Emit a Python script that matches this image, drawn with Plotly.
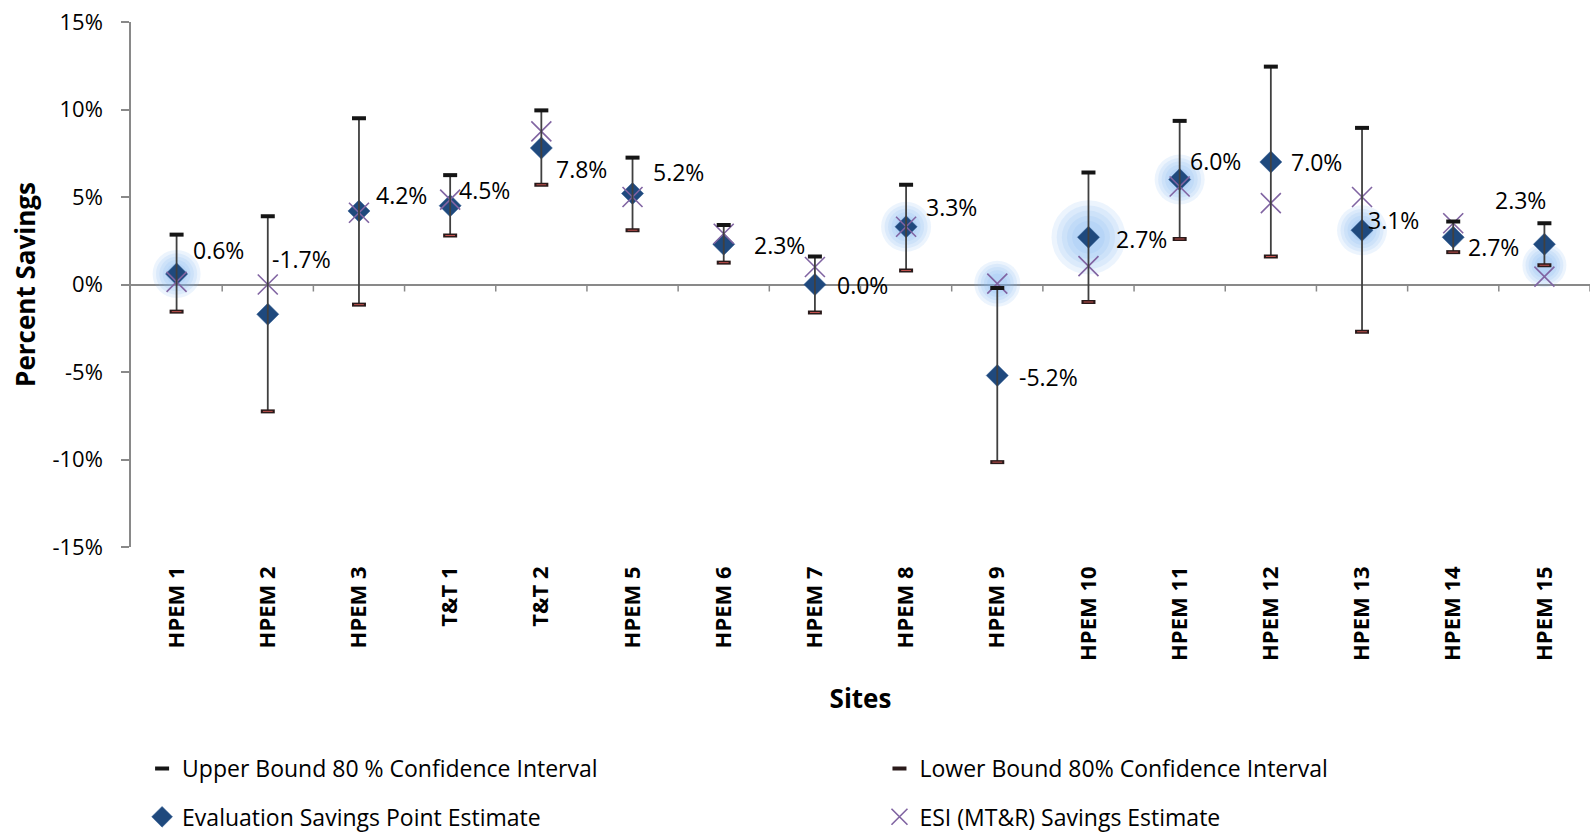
import plotly.graph_objects as go

sites = ["HPEM 1", "HPEM 2", "HPEM 3", "T&T 1", "T&T 2", "HPEM 5", "HPEM 6", "HPEM 7",
         "HPEM 8", "HPEM 9", "HPEM 10", "HPEM 11", "HPEM 12", "HPEM 13", "HPEM 14", "HPEM 15"]
upper_bound = [2.85, 3.9, 9.5, 6.25, 9.95, 7.25, 3.4, 1.6, 5.7, -0.2, 6.4, 9.35, 12.45, 8.95, 3.6, 3.5]
lower_bound = [-1.55, -7.25, -1.15, 2.8, 5.7, 3.1, 1.25, -1.6, 0.8, -10.15, -1.0, 2.6, 1.6, -2.7, 1.85, 1.1]
evaluation = [0.6, -1.7, 4.2, 4.5, 7.8, 5.2, 2.3, 0.0, 3.3, -5.2, 2.7, 6.0, 7.0, 3.1, 2.7, 2.3]
esi = [0.15, 0.0, 4.1, 4.85, 8.75, 5.0, 2.9, 1.0, 3.3, 0.05, 1.05, 5.6, 4.65, 5.0, 3.5, 0.45]
y_tick_vals = [15, 10, 5, 0, -5, -10, -15]
y_tick_text = ["15%", "10%", "5%", "0%", "-5%", "-10%", "-15%"]

# styling: data-label pixel offsets (dx, dy) relative to the evaluation marker
label_offsets = [(14, -24), (2, -55), (15, -16), (7, -16), (13, 21), (18, -22), (28, 1), (20, 0),
                 (18, -20), (20, 1), (26, 2), (8, -19), (18, 0), (4, -10), (13, 10), (-51, -44)]
# styling: glow highlights (site, series, diameter px)
glow_points = [("HPEM 1", "evaluation", 48), ("HPEM 8", "evaluation", 50), ("HPEM 9", "esi", 46),
               ("HPEM 10", "evaluation", 74), ("HPEM 11", "evaluation", 50),
               ("HPEM 13", "evaluation", 50), ("HPEM 15", "lower", 44)]

FONT = "Open Sans"
series_map = {"evaluation": evaluation, "esi": esi, "lower": lower_bound, "upper": upper_bound}

fig = go.Figure()

# glow effect
for site, series, d in glow_points:
    yv = series_map[series][sites.index(site)]
    for frac in (1.0, 0.86, 0.72, 0.58, 0.44):
        fig.add_trace(go.Scatter(
            x=[site], y=[yv], mode="markers", showlegend=False, hoverinfo="skip",
            marker=dict(symbol="circle", size=d * frac, color="rgba(130,180,240,0.15)", line=dict(width=0))))

fig.add_trace(go.Scatter(
    x=sites, y=evaluation, mode="markers", name="Evaluation Savings Point Estimate",
    legend="legend3",
    marker=dict(symbol="diamond", size=17, color="#1F497D", line=dict(width=0.5, color="#2E5B92"))))

fig.add_trace(go.Scatter(
    x=sites, y=esi, mode="markers", name="ESI (MT&R) Savings Estimate",
    legend="legend4",
    marker=dict(symbol="x-thin", size=20, color="#8064A2", line=dict(width=1.6, color="#8064A2"))))

# vertical interval lines
xs, ys = [], []
for s, lo, up in zip(sites, lower_bound, upper_bound):
    xs += [s, s, None]
    ys += [lo, up, None]
fig.add_trace(go.Scatter(x=xs, y=ys, mode="lines", showlegend=False, hoverinfo="skip",
                         line=dict(color="#404040", width=1.8)))

fig.add_trace(go.Scatter(
    x=sites, y=upper_bound, mode="markers", name="Upper Bound 80 % Confidence Interval",
    legend="legend",
    marker=dict(symbol="line-ew", size=10, color="#151515", line=dict(width=4, color="#151515"))))

fig.add_trace(go.Scatter(
    x=sites, y=lower_bound, mode="markers", name="Lower Bound 80% Confidence Interval",
    legend="legend2",
    marker=dict(symbol="line-ew", size=10, color="#2a1a1a", line=dict(width=4, color="#2a1a1a"))))
fig.add_trace(go.Scatter(
    x=sites, y=lower_bound, mode="markers", showlegend=False, hoverinfo="skip",
    marker=dict(symbol="line-ew", size=7, color="#C0504D", line=dict(width=1, color="#C0504D"))))

# data labels
for s, v, (dx, dy) in zip(sites, evaluation, label_offsets):
    fig.add_annotation(x=s, y=v, xref="x", yref="y", text=f"{v:.1f}%", showarrow=False,
                       xanchor="left", yanchor="middle", xshift=dx, yshift=-dy,
                       font=dict(family=FONT, size=23, color="#000000"))

# category boundary tick marks hanging from the zero line
for i in range(len(sites)):
    fig.add_shape(type="line", xref="x", yref="y", x0=i + 0.5, x1=i + 0.5,
                  ysizemode="pixel", yanchor=0, y0=0, y1=-7,
                  line=dict(color="#898989", width=1.5))

legend_common = dict(orientation="h", xanchor="left", yanchor="middle",
                     font=dict(family=FONT, size=23, color="#000000"),
                     bgcolor="rgba(0,0,0,0)", borderwidth=0)

fig.update_layout(
    width=1594, height=837,
    paper_bgcolor="white", plot_bgcolor="white",
    margin=dict(l=131, r=4, t=22, b=290, autoexpand=False),
    font=dict(family=FONT, color="#000000"),
    xaxis=dict(type="category", categoryorder="array", categoryarray=sites, automargin=False,
               range=[-0.5, len(sites) - 0.5], showgrid=False, showline=False,
               ticks="", tickangle=-90, ticklabelstandoff=14, ticklabeloverflow="allow",
               tickfont=dict(family=FONT, size=22, color="#000000", weight="bold"),
               title=dict(text="<b>Sites</b>", font=dict(family=FONT, size=26), standoff=29)),
    yaxis=dict(range=[-15, 15], tickvals=y_tick_vals, ticktext=y_tick_text, showgrid=False,
               automargin=False, ticklabeloverflow="allow",
               showline=True, linecolor="#898989", linewidth=1.5, ticks="outside", ticklen=8,
               tickcolor="#898989", tickwidth=1.5, zeroline=True, zerolinecolor="#898989",
               zerolinewidth=1.5, ticklabelstandoff=14,
               tickfont=dict(family=FONT, size=22, color="#000000"),
               title=dict(text="<b>Percent Savings</b>", font=dict(family=FONT, size=26), standoff=9)),
    legend=dict(x=0.0076, y=-0.422, **legend_common),
    legend2=dict(x=0.513, y=-0.422, **legend_common),
    legend3=dict(x=0.0076, y=-0.514, **legend_common),
    legend4=dict(x=0.513, y=-0.514, **legend_common),
    showlegend=True,
)

fig.write_html("out.html", config={"displayModeBar": False},
               post_script="document.body.style.margin='0px';document.body.style.overflow='hidden';")
